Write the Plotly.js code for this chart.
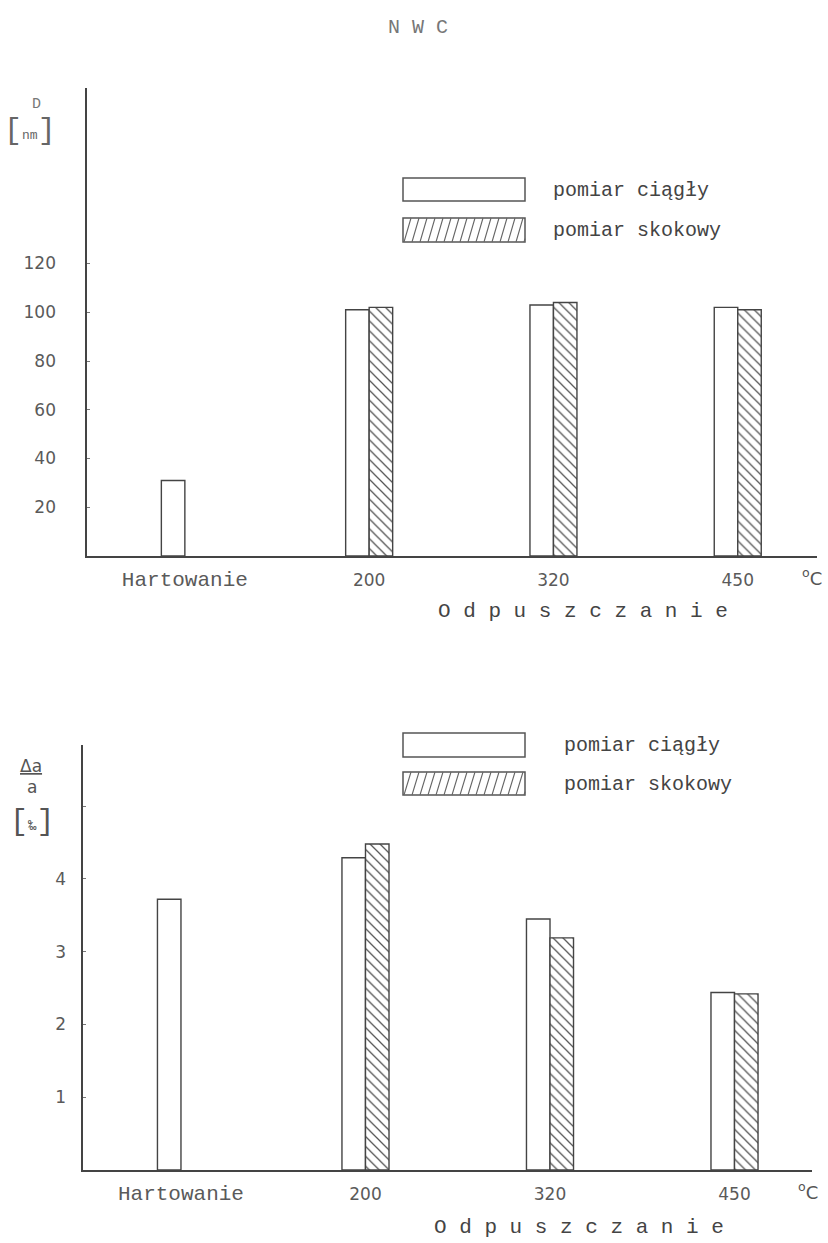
<!DOCTYPE html>
<html>
<head>
<meta charset="utf-8">
<script src="https://cdn.plot.ly/plotly-3.0.1.min.js"></script>
<style>html,body{margin:0;padding:0;background:#fff;}</style>
</head>
<body>
<div id="chart" style="width:828px;height:1243px;"></div>
<script>
// ---- data ----
const categories = ['Hartowanie', '200', '320', '450'];
const seriesNames = ['pomiar ciągły', 'pomiar skokowy'];
const D_ciagly   = [31, 101, 103, 102];
const D_skokowy  = [null, 102, 104, 101];
const da_ciagly  = [3.72, 4.29, 3.45, 2.44];
const da_skokowy = [null, 4.48, 3.19, 2.42];
const yTicksTop = [20, 40, 60, 80, 100, 120];
const yTickTextTop = ['20', '40', '60', '80', '100', '120'];
const yTicksBottom = [1, 2, 3, 4, 5];
const yTickTextBottom = ['1', '2', '3', '4', ' '];

// ---- styling helpers ----
const W = 828, H = 1243;
const px = x => x / W;
const py = y => 1 - y / H;
const MONO = 'Liberation Mono, Courier New, monospace';
const SANS = 'DejaVu Sans, sans-serif';
const INK = '#444444';

const xTickText = categories.map((c, i) =>
  i === 0 ? '<span style="font-family:Liberation Mono;font-size:21px">' + c + '</span>' : c);

const openMarker = { color: 'white', line: { color: INK, width: 1.4 } };
const hatchMarker = {
  color: 'white', line: { color: INK, width: 1.4 },
  pattern: { shape: '\\', fgcolor: '#555', bgcolor: 'white', size: 7, solidity: 0.18, fillmode: 'replace' }
};

const traces = [
  { type: 'bar', x: categories, y: D_ciagly, name: seriesNames[0], marker: openMarker, xaxis: 'x', yaxis: 'y', hoverinfo: 'skip' },
  { type: 'bar', x: categories, y: D_skokowy, name: seriesNames[1], marker: hatchMarker, xaxis: 'x', yaxis: 'y', hoverinfo: 'skip' },
  { type: 'bar', x: categories, y: da_ciagly, name: seriesNames[0], marker: openMarker, xaxis: 'x2', yaxis: 'y2', hoverinfo: 'skip' },
  { type: 'bar', x: categories, y: da_skokowy, name: seriesNames[1], marker: hatchMarker, xaxis: 'x2', yaxis: 'y2', hoverinfo: 'skip' }
];

const xAxisCommon = {
  type: 'category', showline: true, linecolor: INK, linewidth: 1.6,
  ticks: '', showgrid: false, zeroline: false, fixedrange: true,
  tickvals: categories, ticktext: xTickText,
  tickfont: { family: SANS, size: 17, color: '#5a5a5a' }, ticklabelstandoff: 8
};
const yAxisCommon = {
  showline: true, linecolor: INK, linewidth: 1.6, ticks: 'inside', ticklen: 3,
  tickcolor: '#777', showgrid: false, zeroline: false, fixedrange: true,
  tickfont: { family: SANS, size: 17, color: '#5a5a5a' }
};

// ---- legend boxes (drawn as shapes) ----
const shapes = [];
const annotations = [];
function legendBox(x0, x1, yTop, yBot, hatched) {
  shapes.push({ type: 'rect', xref: 'paper', yref: 'paper', x0: px(x0), x1: px(x1), y0: py(yBot), y1: py(yTop),
    line: { color: '#555', width: 1.5 }, fillcolor: 'white' });
  if (!hatched) return;
  const dx = 7, step = 8;
  let d = '';
  for (let s = x0 - dx; s < x1; s += step) {
    let xa = s, ya = yBot, xb = s + dx, yb = yTop;
    if (xa < x0) { const t = (x0 - xa) / dx; xa = x0; ya = yBot - t * (yBot - yTop); }
    if (xb > x1) { const t = (x1 - s) / dx; xb = x1; yb = yBot - t * (yBot - yTop); }
    d += 'M' + px(xa) + ',' + py(ya) + 'L' + px(xb) + ',' + py(yb) + ' ';
  }
  shapes.push({ type: 'path', xref: 'paper', yref: 'paper', path: d, line: { color: '#666', width: 1.1 } });
}
function text(t, x, y, size, opts) {
  annotations.push(Object.assign({ text: t, xref: 'paper', yref: 'paper', x: px(x), y: py(y), showarrow: false,
    xanchor: 'center', yanchor: 'middle', font: { family: MONO, size: size, color: INK } }, opts || {}));
}

// top legend
legendBox(403, 525, 178, 201, false);
legendBox(403, 525, 218, 242, true);
text(seriesNames[0], 551, 190, 20, { xanchor: 'left' });
text(seriesNames[1], 551, 230, 20, { xanchor: 'left' });
// bottom legend
legendBox(403, 525, 733, 757, false);
legendBox(403, 525, 772, 795, true);
text(seriesNames[0], 562, 745, 20, { xanchor: 'left' });
text(seriesNames[1], 562, 784, 20, { xanchor: 'left' });

// titles / labels
text('N W C', 418, 27, 20, { font: { family: MONO, size: 20, color: '#777' } });
text('D', 36, 104, 15, { font: { family: MONO, size: 15, color: '#777' } });
text('[<span style="font-size:13px">nm</span>]', 30, 131, 30, { font: { family: MONO, size: 30, color: '#666' } });
text('O d p u s z c z a n i e', 583, 611, 21);
text('O d p u s z c z a n i e', 579, 1227, 21);
text('<sup>o</sup>C', 812, 577, 18, { font: { family: SANS, size: 18, color: '#555' } });
text('<sup>o</sup>C', 808, 1191, 18, { font: { family: SANS, size: 18, color: '#555' } });
text('<u>Δa</u>', 31, 766, 17, { font: { family: SANS, size: 17, color: '#555' } });
text('a', 32, 787, 17, { font: { family: SANS, size: 17, color: '#555' } });
text('[<span style="font-size:14px">‰</span>]', 32, 822, 30, { font: { family: MONO, size: 30, color: '#555' } });

const layout = {
  width: W, height: H, margin: { l: 0, r: 0, t: 0, b: 0 },
  paper_bgcolor: 'white', plot_bgcolor: 'rgba(0,0,0,0)',
  showlegend: false, barmode: 'group', bargap: 0.745, bargroupgap: 0,
  xaxis: Object.assign({}, xAxisCommon, { domain: [px(87), px(817)], anchor: 'y', range: [-0.531, 3.43] }),
  yaxis: Object.assign({}, yAxisCommon, { domain: [py(556), py(88)], anchor: 'x', range: [0, 192],
    tickvals: yTicksTop, ticktext: yTickTextTop, ticklabelstandoff: 26 }),
  xaxis2: Object.assign({}, xAxisCommon, { domain: [px(83), px(812)], anchor: 'y2', range: [-0.531, 3.42] }),
  yaxis2: Object.assign({}, yAxisCommon, { domain: [py(1170), py(745)], anchor: 'x2', range: [0, 5.84],
    tickvals: yTicksBottom, ticktext: yTickTextBottom, ticklabelstandoff: 12 }),
  shapes: shapes, annotations: annotations
};

Plotly.newPlot('chart', traces, layout, { staticPlot: true, displayModeBar: false });
</script>
</body>
</html>
